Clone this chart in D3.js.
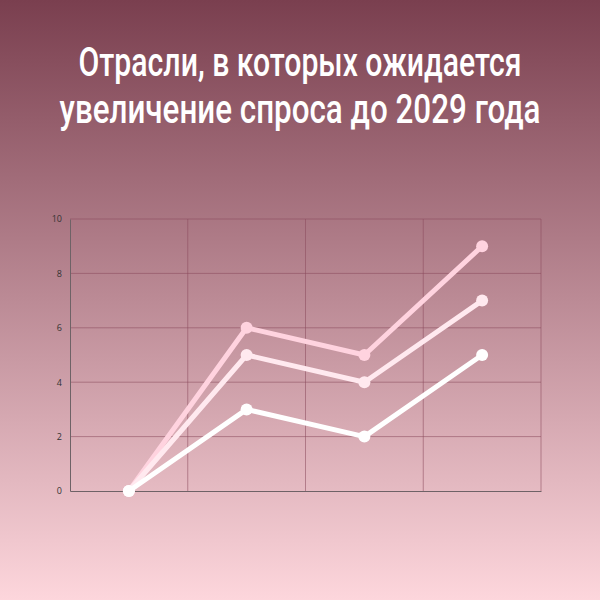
<!DOCTYPE html>
<html><head><meta charset="utf-8">
<script src="https://cdn.jsdelivr.net/npm/d3@7"></script>
<style>html,body{margin:0;padding:0;overflow:hidden;}</style>
</head><body>
<svg id="chart" width="600" height="600"></svg>
<script>
const titleLines = ["Отрасли, в которых ожидается", "увеличение спроса до 2029 года"];
const categories = ["1", "2", "3", "4"];
const seriesA = [0, 6, 5, 9];
const seriesB = [0, 5, 4, 7];
const seriesC = [0, 3, 2, 5];
const yTicks = [0, 2, 4, 6, 8, 10];

const svg = d3.select("#chart");
const defs = svg.append("defs");
const grad = defs.append("linearGradient").attr("id","bg").attr("x1",0).attr("y1",0).attr("x2",0).attr("y2",1);
grad.append("stop").attr("offset","0%").attr("stop-color","#7a3f4f");
grad.append("stop").attr("offset","100%").attr("stop-color","#fdd6dc");
svg.append("rect").attr("width",600).attr("height",600).attr("fill","url(#bg)");

const tl = [{y:76,w:443},{y:123,w:481}];
svg.selectAll("text.title").data(titleLines).join("text")
  .attr("class","title")
  .attr("x",0).attr("y",0)
  .attr("text-anchor","middle")
  .attr("font-family","Roboto, sans-serif")
  .attr("font-weight",500)
  .attr("font-size",40)
  .attr("fill","#ffffff")
  .text(d=>d)
  .each(function(d,i){
    const len = this.getComputedTextLength();
    const s = tl[i].w/len;
    d3.select(this).attr("transform",`translate(300,${tl[i].y}) scale(${s},1)`);
  });

const pLeft=70, pRight=541, pTop=219, pBottom=491;
const x = d3.scaleBand().domain(categories).range([pLeft,pRight]);
const y = d3.scaleLinear().domain([0,10]).range([pBottom,pTop]);

const g = svg.append("g");
g.selectAll("line.hg").data(yTicks.filter(t=>t>0)).join("line")
  .attr("x1",pLeft).attr("x2",pRight).attr("y1",d=>y(d)).attr("y2",d=>y(d))
  .attr("stroke","#8a4a5c").attr("stroke-opacity",0.55).attr("stroke-width",1);
const vb = categories.slice(1).map(c=>x(c)).concat([pRight]);
g.selectAll("line.vg").data(vb).join("line")
  .attr("x1",d=>d).attr("x2",d=>d).attr("y1",pTop).attr("y2",pBottom)
  .attr("stroke","#8a4a5c").attr("stroke-opacity",0.55).attr("stroke-width",1);

const yAxis = d3.axisLeft(y).tickValues(yTicks).tickSize(0).tickPadding(8);
const ya = svg.append("g").attr("transform",`translate(${pLeft},0)`).call(yAxis);
ya.select(".domain").attr("stroke","#6e6266");
ya.selectAll("text").attr("font-family","'Open Sans', sans-serif").attr("font-size",9).attr("fill","#333");
const xAxis = d3.axisBottom(x).tickSize(0).tickFormat("");
const xa = svg.append("g").attr("transform",`translate(0,${pBottom})`).call(xAxis);
xa.select(".domain").attr("stroke","#6e6266");

const series = [
  {v: seriesA, c: "#ffd3df"},
  {v: seriesB, c: "#ffe9ef"},
  {v: seriesC, c: "#ffffff"}
];
const line = d3.line().x((d,i)=>x(categories[i])+x.bandwidth()/2).y(d=>y(d));
series.forEach(s=>{
  svg.append("path").datum(s.v).attr("d",line).attr("fill","none")
    .attr("stroke",s.c).attr("stroke-width",5).attr("stroke-linejoin","round");
  svg.append("g").selectAll("circle").data(s.v).join("circle")
    .attr("cx",(d,i)=>x(categories[i])+x.bandwidth()/2).attr("cy",d=>y(d))
    .attr("r",6).attr("fill",s.c);
});
</script>
</body></html>
